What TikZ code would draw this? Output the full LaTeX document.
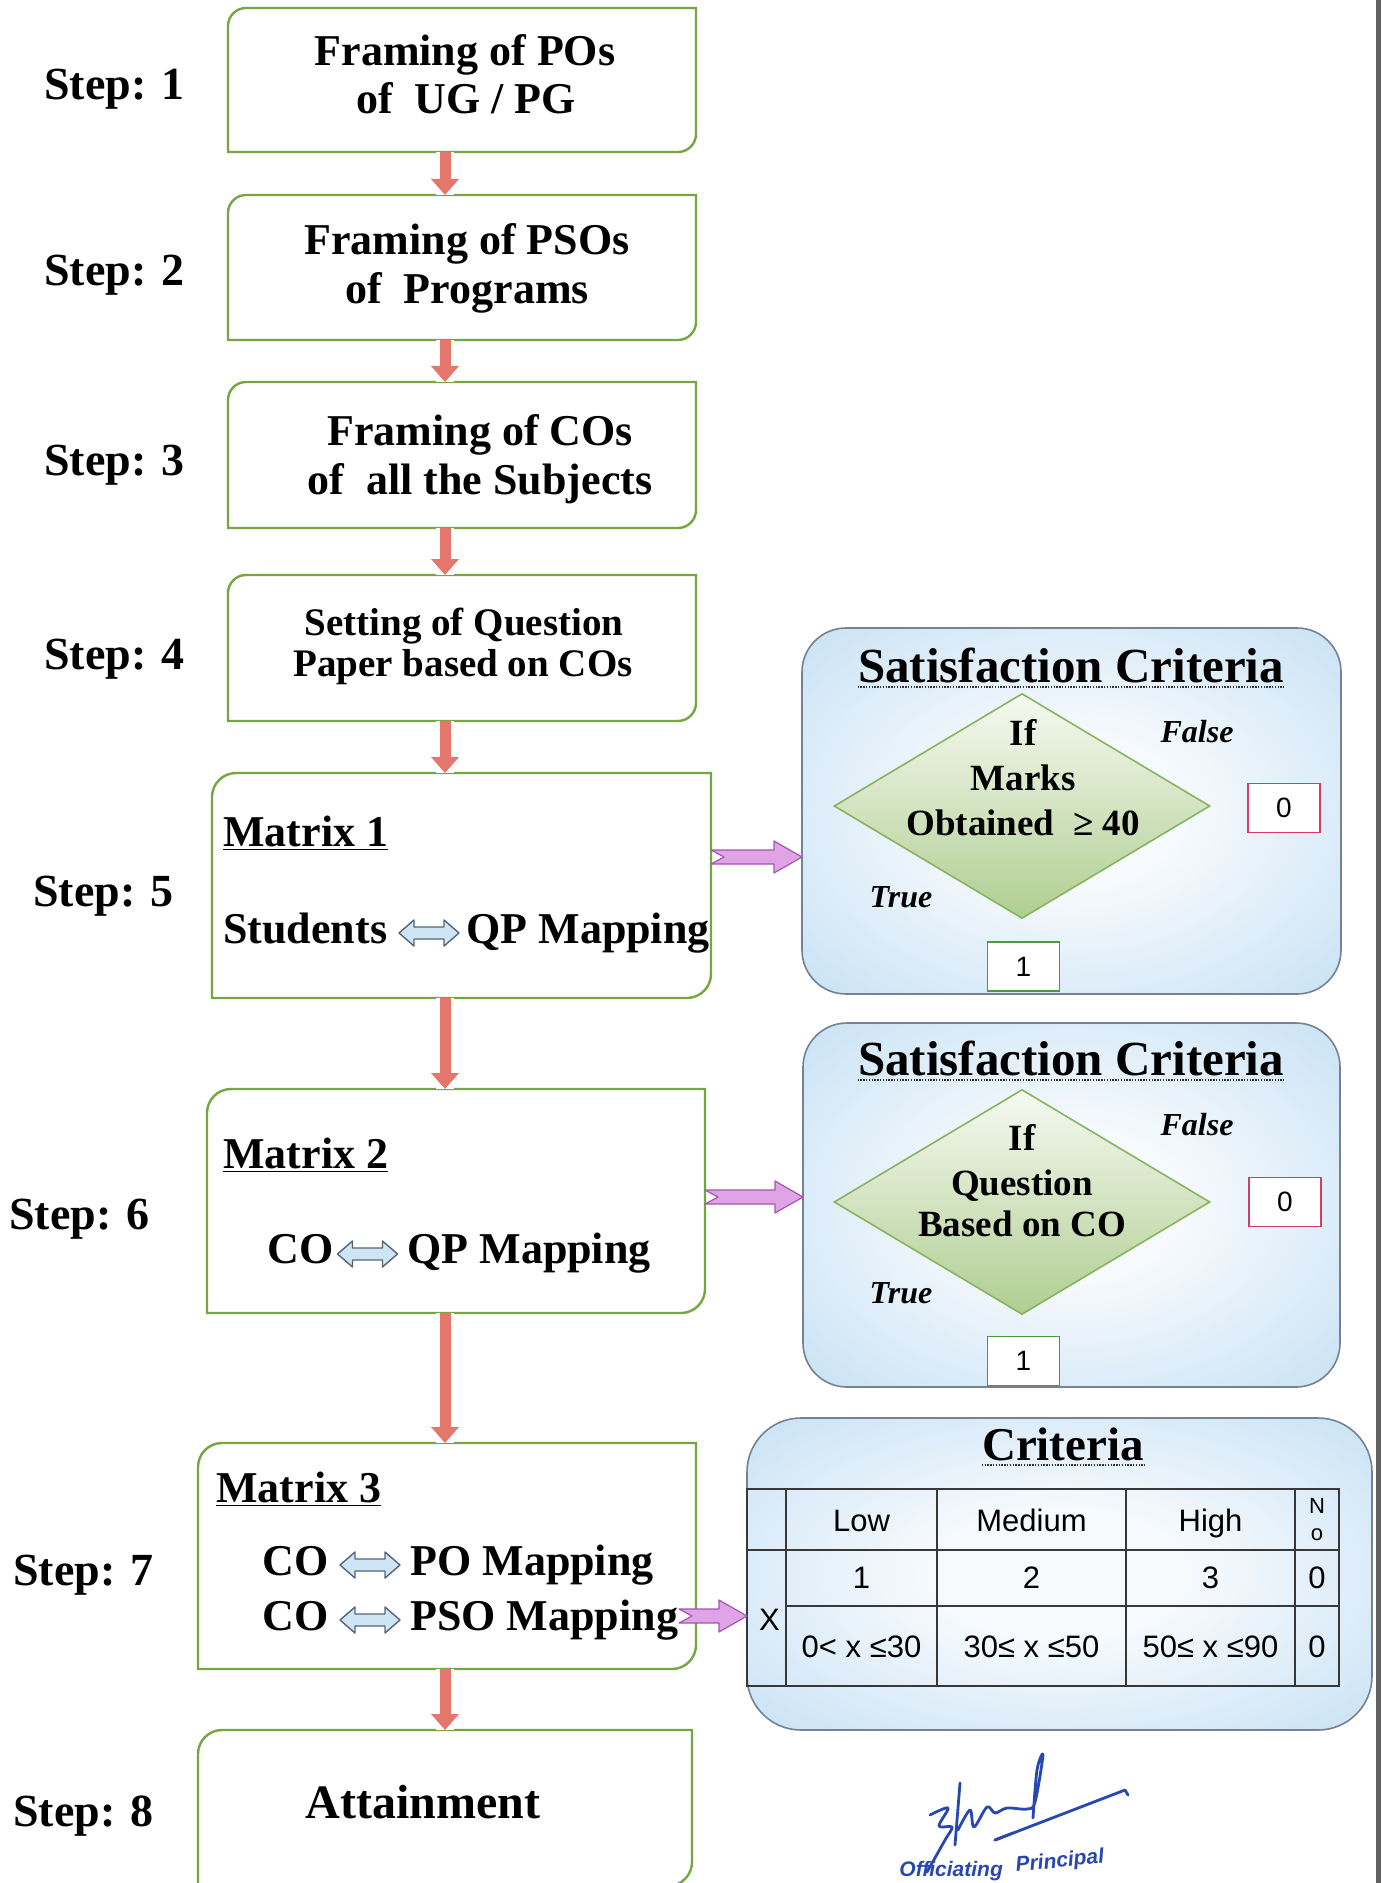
\documentclass[tikz,border=0pt]{standalone}
\usepackage{fontspec}
\setmainfont{Liberation Serif}
\setsansfont{Liberation Sans}
\usetikzlibrary{shapes.geometric,arrows.meta,calc,fit}

\definecolor{boxgreen}{RGB}{118,166,66}
\definecolor{flowred}{RGB}{228,118,108}
\definecolor{panelblue}{RGB}{188,220,243}
\definecolor{panellight}{RGB}{247,250,253}
\definecolor{panelrim}{RGB}{118,130,146}
\definecolor{diatop}{RGB}{246,249,242}
\definecolor{diagreen}{RGB}{176,206,145}
\definecolor{diarim}{RGB}{135,180,95}
\definecolor{linkfill}{RGB}{224,164,230}
\definecolor{linkrim}{RGB}{165,85,175}
\definecolor{falsered}{RGB}{212,62,102}
\definecolor{truegreen}{RGB}{78,150,70}
\definecolor{inkblue}{RGB}{40,72,175}
\definecolor{twowayfill}{RGB}{206,229,246}
\definecolor{twowayrim}{RGB}{85,100,118}

% soft glow used inside the criteria panels
\pgfdeclareradialshading{panelglow}{\pgfpoint{0bp}{0bp}}{%
  color(0bp)=(panellight); color(10bp)=(panellight); color(42bp)=(panelblue); color(50bp)=(panelblue)}

\tikzset{
  areabox/.style={inner sep=0pt, outer sep=0pt},
  boxline/.style={draw=boxgreen, line width=1.2pt, fill=white},
  stepfont/.style={font=\fontsize{23}{25}\selectfont\bfseries, inner sep=0pt, anchor=base west},
  boxfont/.style={font=\fontsize{22}{24}\selectfont\bfseries, inner sep=0pt, anchor=base},
  smallboxfont/.style={font=\fontsize{19.5}{21}\selectfont\bfseries, inner sep=0pt, anchor=base},
  mapfont/.style={font=\fontsize{22}{24}\selectfont\bfseries, inner sep=0pt, anchor=base west},
  attfont/.style={font=\fontsize{24}{26}\selectfont\bfseries, inner sep=0pt, anchor=base},
  titlefont/.style={font=\fontsize{24.5}{26}\selectfont\bfseries, inner sep=0pt, anchor=base},
  critfont/.style={font=\fontsize{23.5}{25}\selectfont\bfseries, inner sep=0pt, anchor=base},
  dfont/.style={font=\fontsize{18.5}{20}\selectfont\bfseries, inner sep=0pt, anchor=base},
  tffont/.style={font=\fontsize{16}{18}\selectfont\bfseries\itshape, inner sep=0pt, anchor=base},
  tabfont/.style={font=\sffamily\fontsize{15.5}{17}\selectfont, inner sep=0pt, anchor=base},
  tabsmall/.style={font=\sffamily\fontsize{11}{12}\selectfont, inner sep=0pt, anchor=base},
  panel/.style={draw=panelrim, line width=0.8pt, shading=panelglow, inner sep=0pt, outer sep=0pt},
  decision/.style={diamond, draw=diarim, line width=0.8pt, top color=diatop, bottom color=diagreen,
                   minimum width=188pt, minimum height=112.5pt, inner sep=0pt},
  valbox/.style={fill=white, line width=0.9pt, minimum width=36pt, minimum height=24.5pt, inner sep=0pt,
                 font=\sffamily\fontsize{14}{16}\selectfont},
  flow/.style={draw=flowred, line width=5.5pt, -{Triangle[width=13.5pt,length=8pt]},
               preaction={draw=white, line width=9pt, -}},
  linkstyle/.style={fill=linkfill, draw=linkrim, line width=0.6pt, line join=round},
  twowaystyle/.style={fill=twowayfill, draw=twowayrim, line width=0.7pt, line join=round},
  dotrule/.style={draw=black!80, line width=1pt, dash pattern=on 0.7pt off 0.7pt},
  tabrule/.style={draw=black!78, line width=1pt},
  ink/.style={draw=inkblue, line width=1.4pt, line cap=round, line join=round},
  inktext/.style={font=\sffamily\bfseries\itshape\fontsize{10.5}{12}\selectfont, text=inkblue, inner sep=0pt, anchor=base west}
}

% green step frame: rounded top-left and bottom-right corners
\newcommand\stepframe[2]{%
  \draw[boxline] (#1.south west) -- ([yshift=-#2]#1.north west)
    arc[start angle=180,end angle=90,radius=#2] -- (#1.north east)
    -- ([yshift=#2]#1.south east) arc[start angle=0,end angle=-90,radius=#2] -- cycle;}

% notched block arrow from a tail point to a tip point on one level
\newcommand\linkarrow[2]{%
  \filldraw[linkstyle] let \p1=(#1), \p2=(#2) in
    (\x1,\y1+3.5pt) -- (\x2-14pt,\y1+3.5pt) -- (\x2-14pt,\y1+8pt) -- (\x2,\y1)
    -- (\x2-14pt,\y1-8pt) -- (\x2-14pt,\y1-3.5pt) -- (\x1,\y1-3.5pt) -- (\x1+6.5pt,\y1) -- cycle;}

% two-headed block arrow centred on a point
\newcommand\twoway[1]{%
  \filldraw[twowaystyle] let \p1=(#1) in
    (\x1-15pt,\y1) -- (\x1-7.5pt,\y1+6.5pt) -- (\x1-7.5pt,\y1+3pt) -- (\x1+7.5pt,\y1+3pt)
    -- (\x1+7.5pt,\y1+6.5pt) -- (\x1+15pt,\y1) -- (\x1+7.5pt,\y1-6.5pt) -- (\x1+7.5pt,\y1-3pt)
    -- (\x1-7.5pt,\y1-3pt) -- (\x1-7.5pt,\y1-6.5pt) -- cycle;}

\begin{document}
\begin{tikzpicture}[x=0.5pt,y=0.5pt]
\useasboundingbox (0,0) rectangle (1382,-1883);
\fill[white] (0,0) rectangle (1382,-1883);

% page rule
\draw[line width=2.2pt, draw=black!62] (1378.5,0) -- (1378.5,-1883);

% ---------- step boxes ----------
\node[areabox, fit={(228,-8) (696,-152)}] (b1) {};
\node[areabox, fit={(228,-195) (696,-340)}] (b2) {};
\node[areabox, fit={(228,-382) (696,-528)}] (b3) {};
\node[areabox, fit={(228,-575) (696,-721)}] (b4) {};
\node[areabox, fit={(212,-773) (711,-998)}] (b5) {};
\node[areabox, fit={(207,-1089) (705,-1313)}] (b6) {};
\node[areabox, fit={(198,-1443) (696,-1669)}] (b7) {};
\node[areabox, fit={(198,-1730) (692,-1886)}] (b8) {};
\stepframe{b1}{9pt}
\stepframe{b2}{9pt}
\stepframe{b3}{9pt}
\stepframe{b4}{9pt}
\stepframe{b5}{12pt}
\stepframe{b6}{12pt}
\stepframe{b7}{12pt}
\stepframe{b8}{12pt}

% ---------- step labels ----------
\node[stepfont] (s1) at (44,-100) {Step: 1};
\node[stepfont] (s2) at (44,-286) {Step: 2};
\node[stepfont] (s3) at (44,-475) {Step: 3};
\node[stepfont] (s4) at (44,-669) {Step: 4};
\node[stepfont] (s5) at (33,-906) {Step: 5};
\node[stepfont] (s6) at (9,-1229) {Step: 6};
\node[stepfont] (s7) at (13,-1585) {Step: 7};
\node[stepfont] (s8) at (13,-1826) {Step: 8};

% ---------- box texts ----------
\node[boxfont] (b1a) at (465,-66) {Framing of POs};
\node[boxfont] (b1b) at (466,-114) {of\ \ UG / PG};
\node[boxfont] (b2a) at (467,-255) {Framing of PSOs};
\node[boxfont] (b2b) at (467,-304) {of\ \ Programs};
\node[boxfont] (b3a) at (480,-445) {Framing of COs};
\node[boxfont] (b3b) at (480,-494) {of\ \ all the Subjects};
\node[smallboxfont] (b4a) at (464,-635) {Setting of Question};
\node[smallboxfont] (b4b) at (463,-676) {Paper based on COs};

\node[mapfont] (m1) at (223,-846) {\underline{Matrix 1}};
\node[mapfont] (r5a) at (223,-943) {Students};
\coordinate (k5) at (429,-933);
\twoway{k5}
\node[mapfont] (r5b) at (466,-943) {QP Mapping};

\node[mapfont] (m2) at (223,-1168) {\underline{Matrix 2}};
\node[mapfont] (r6a) at (267,-1263) {CO};
\coordinate (k6) at (367.5,-1254);
\twoway{k6}
\node[mapfont] (r6b) at (407,-1263) {QP Mapping};

\node[mapfont] (m3) at (216,-1502) {\underline{Matrix 3}};
\node[mapfont] (r7a) at (262,-1575) {CO};
\coordinate (k7a) at (370,-1565);
\twoway{k7a}
\node[mapfont] (r7b) at (410,-1575) {PO Mapping};
\node[mapfont] (r7c) at (262,-1630) {CO};
\coordinate (k7b) at (370,-1620);
\twoway{k7b}
\node[mapfont] (r7d) at (410,-1630) {PSO Mapping};

\node[attfont] (att) at (423,-1818) {Attainment};

% ---------- flow arrows ----------
\coordinate (ax) at (445,0);
\foreach \a/\b in {b1/b2,b2/b3,b3/b4,b4/b5,b5/b6,b6/b7,b7/b8}
  \draw[flow] (\a.south -| ax) -- (\b.north -| ax);

% ---------- criteria panels ----------
\node[panel, rounded corners=22pt, fit={(802,-628) (1341,-994)}] (p1) {};
\node[panel, rounded corners=22pt, fit={(803,-1023) (1340,-1387)}] (p2) {};
\node[panel, rounded corners=27pt, fit={(747,-1418) (1372,-1730)}] (p3) {};

\node[titlefont] (h1) at (1071,-682) {Satisfaction Criteria};
\draw[dotrule] ([yshift=-2.5pt]h1.base west) -- ([yshift=-2.5pt]h1.base east);
\node[titlefont] (h2) at (1071,-1075) {Satisfaction Criteria};
\draw[dotrule] ([yshift=-2.5pt]h2.base west) -- ([yshift=-2.5pt]h2.base east);
\node[critfont] (h3) at (1063,-1460) {Criteria};
\draw[dotrule] ([yshift=-2.5pt]h3.base west) -- ([yshift=-2.5pt]h3.base east);

% first decision
\node[decision] (d1) at (1022,-806) {};
\node[dfont] (d1a) at (1023,-745) {If};
\node[dfont] (d1b) at (1023,-790) {Marks};
\node[dfont] (d1c) at (1023,-835) {Obtained\ \ ≥ 40};
\node[tffont] (f1) at (1197,-742) {False};
\node[tffont] (t1) at (901,-907) {True};
\node[valbox, draw=falsered] (z1) at (1284,-808) {0};
\node[valbox, draw=truegreen] (o1) at (1023.5,-966.5) {1};

% second decision
\node[decision] (d2) at (1022,-1202) {};
\node[dfont] (d2a) at (1022,-1150) {If};
\node[dfont] (d2b) at (1022,-1195) {Question};
\node[dfont] (d2c) at (1022,-1236) {Based on CO};
\node[tffont] (f2) at (1197,-1135) {False};
\node[tffont] (t2) at (901,-1303) {True};
\node[valbox, draw=falsered] (z2) at (1285,-1202) {0};
\node[valbox, draw=truegreen] (o2) at (1023.5,-1361) {1};

% criteria table
\draw[tabrule] (747,-1489) rectangle (1339,-1686);
\foreach \cx in {786,937,1126,1295}
  \draw[tabrule] (\cx,-1489) -- (\cx,-1686);
\draw[tabrule] (747,-1550) -- (1339,-1550);
\draw[tabrule] (786,-1606) -- (1339,-1606);

\node[tabfont] (c11) at (861.5,-1531) {Low};
\node[tabfont] (c12) at (1031.5,-1531) {Medium};
\node[tabfont] (c13) at (1210.5,-1531) {High};
\node[tabsmall] (c14a) at (1317,-1513) {N};
\node[tabsmall] (c14b) at (1317,-1540) {o};
\node[tabfont] (c21) at (861.5,-1588) {1};
\node[tabfont] (c22) at (1031.5,-1588) {2};
\node[tabfont] (c23) at (1210.5,-1588) {3};
\node[tabfont] (c24) at (1317,-1588) {0};
\node[tabfont] (c31) at (861.5,-1657) {0< x ≤30};
\node[tabfont] (c32) at (1031.5,-1657) {30≤ x ≤50};
\node[tabfont] (c33) at (1210.5,-1657) {50≤ x ≤90};
\node[tabfont] (c34) at (1317,-1657) {0};
\node[tabfont] (cx) at (769.5,-1630) {X};

% ---------- links from matrices to criteria ----------
\coordinate (y5) at (0,-857);
\coordinate (y6) at (0,-1197);
\coordinate (y7) at (0,-1616);
\linkarrow{b5.east |- y5}{p1.west |- y5}
\linkarrow{b6.east |- y6}{p2.west |- y6}
\linkarrow{$(b7.east |- y7)+(-17,0)$}{p3.west |- y7}

% ---------- signature ----------
\draw[ink] plot[smooth, tension=0.55] coordinates {(930,-1815) (948,-1808) (939,-1826) (952,-1827) (945,-1840) (927,-1872)};
\draw[ink] (960,-1783) -- (955,-1845);
\draw[ink] plot[smooth, tension=0.55] coordinates {(958,-1830) (970,-1810) (974,-1827) (987,-1807) (995,-1813) (1007,-1808) (1027,-1809) (1035,-1802) (1043,-1755) (1037,-1770) (1033,-1818)};
\draw[ink] (995,-1840) -- (1125,-1790) -- (1128,-1795);
\draw[ink] (995,-1840) -- (1013,-1833);
\node[inktext] (sg1) at (899,-1876) {Officiating};
\node[inktext, rotate=6] (sg2) at (1016,-1872) {Principal};
\end{tikzpicture}
\end{document}
